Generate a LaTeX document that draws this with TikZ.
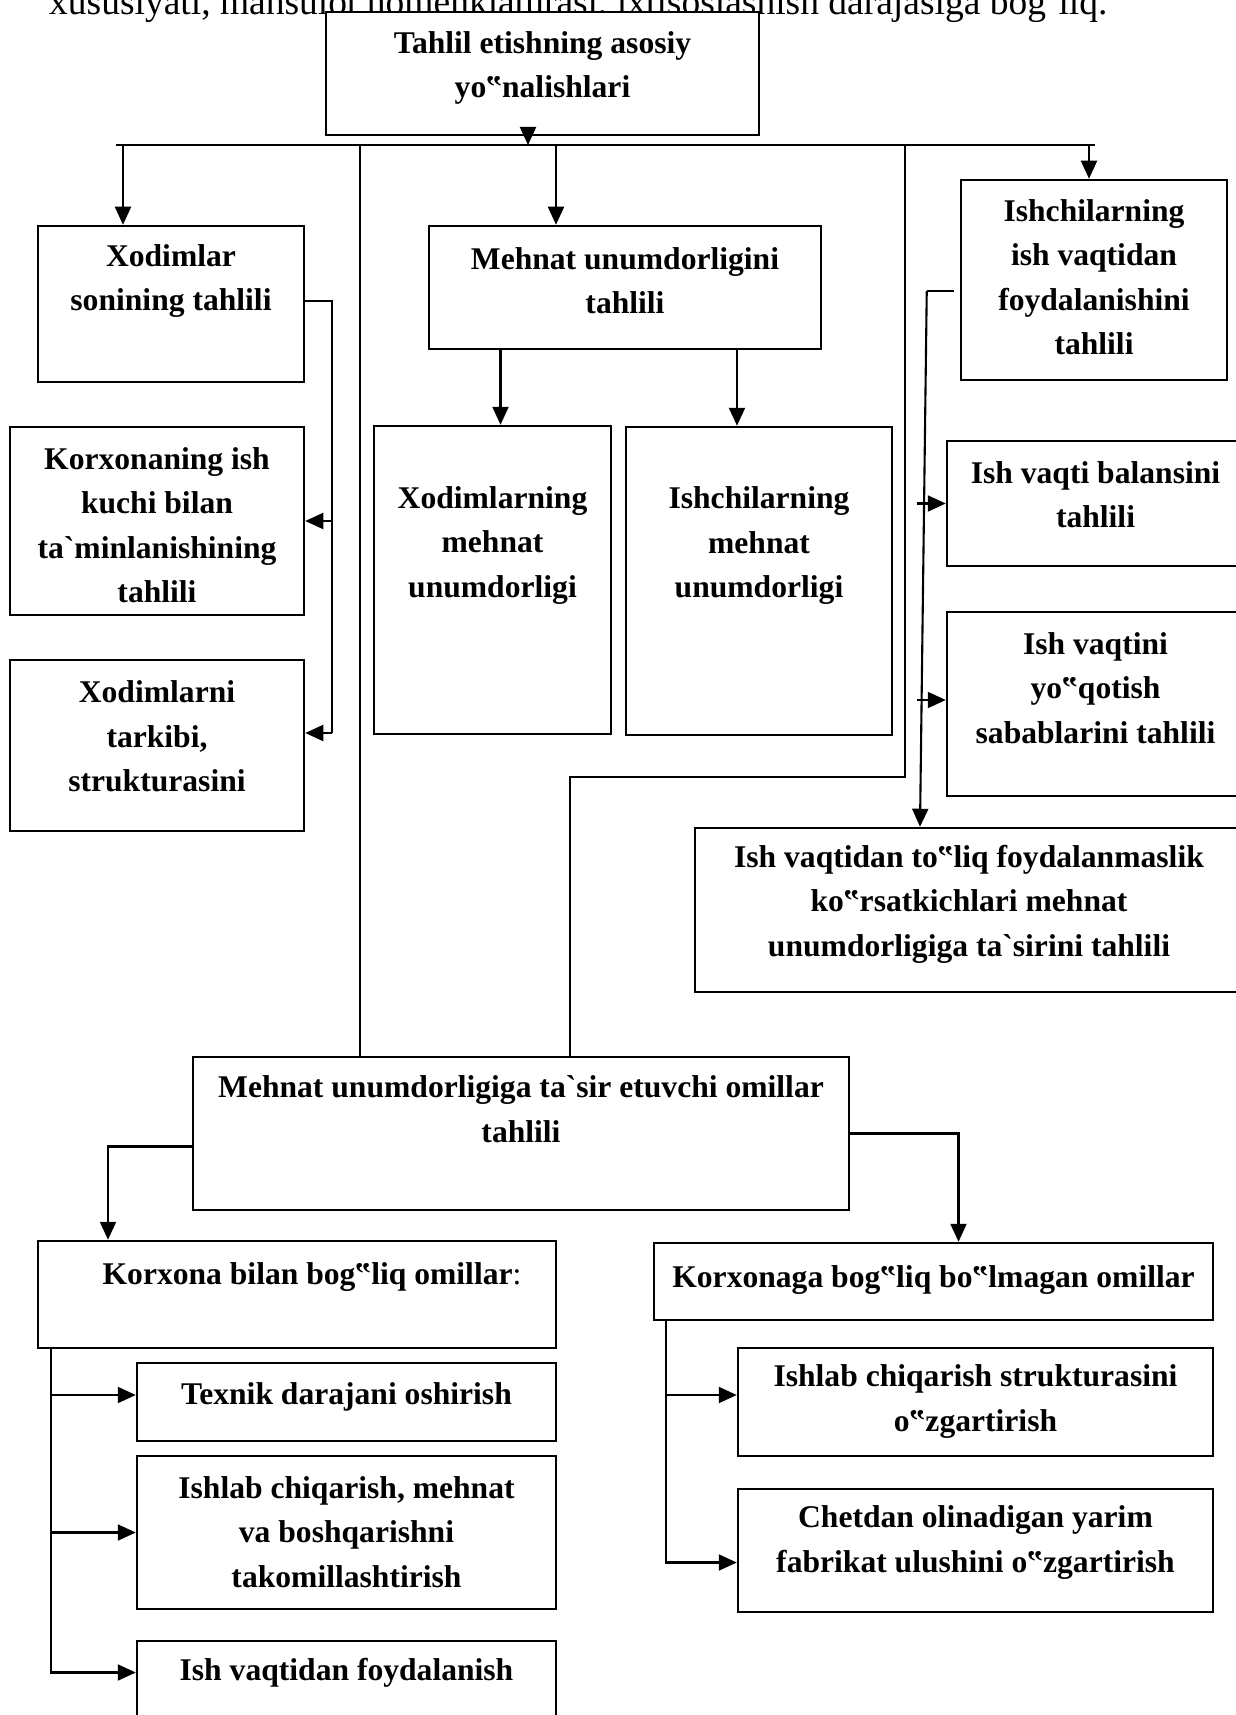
\documentclass[tikz,border=0pt]{standalone}
\usepackage{fontspec}
\newfontfamily\chartfont{Liberation Serif}
\usetikzlibrary{arrows.meta}
\tikzset{
  box/.style={draw,line width=2.5pt,fill=white,inner sep=0pt},
  txt/.style={align=center,inner sep=0pt,font=\chartfont\bfseries\fontsize{31.6}{44.5}\selectfont},
  line/.style={line width=2.1pt},
  arr/.style={line width=2.1pt,-{Triangle[length=18pt,width=16pt]}}
}
\begin{document}
\begin{tikzpicture}[x=1pt,y=-1pt]
  \path[use as bounding box,clip] (0,0) rectangle (1236,1715);
  \fill[white] (0,0) rectangle (1236,1715);
  % last line of the text above, cut by the page
  \node[anchor=base west,inner sep=0pt,font=\chartfont\fontsize{37.5}{44}\selectfont] (prev) at (49,15) {xususiyati, mahsulot nomenklaturasi, ixtisoslashish darajasiga bog‘liq.};

  % top
  \node[box,minimum width=433pt,minimum height=123pt] (top) at (542.5,73.5) {};
  \node[txt] (topT) at (542.5,68) {Tahlil etishning asosiy\\yo‟nalishlari};

  % left column
  \node[box,minimum width=266pt,minimum height=156pt] (xod) at (171,304) {};
  \node[txt] (xodT) at (171,281) {Xodimlar\\sonining tahlili};
  \node[box,minimum width=294pt,minimum height=188pt] (kor) at (157,521) {};
  \node[txt] (korT) at (157,525) {Korxonaning ish\\kuchi bilan\\ta`minlanishining\\tahlili};
  \node[box,minimum width=294pt,minimum height=171pt] (xodt) at (157,745.5) {};
  \node[txt] (xodtT) at (157,736.5) {Xodimlarni\\tarkibi,\\strukturasini};

  % middle column
  \node[box,minimum width=392pt,minimum height=123pt] (mun) at (625,287.5) {};
  \node[txt] (munT) at (625,280.5) {Mehnat unumdorligini\\tahlili};
  \node[box,minimum width=237pt,minimum height=308pt] (xm) at (492.5,580) {};
  \node[txt] (xmT) at (492.5,545.5) {Xodimlarning\\mehnat\\unumdorligi};
  \node[box,minimum width=266pt,minimum height=308pt] (im) at (759,581) {};
  \node[txt] (imT) at (759,546) {Ishchilarning\\mehnat\\unumdorligi};

  % right column
  \node[box,minimum width=266pt,minimum height=200pt] (ish) at (1094,280) {};
  \node[txt] (ishT) at (1094,277) {Ishchilarning\\ish vaqtidan\\foydalanishini\\tahlili};
  \node[box,minimum width=297pt,minimum height=125pt] (bal) at (1095.5,503.5) {};
  \node[txt] (balT) at (1095.5,494.5) {Ish vaqti balansini\\tahlili};
  \node[box,minimum width=297pt,minimum height=184pt] (yoq) at (1095.5,704) {};
  \node[txt] (yoqT) at (1095.5,688) {Ish vaqtini\\yo‟qotish\\sabablarini tahlili};
  \node[box,minimum width=548pt,minimum height=164pt] (itl) at (969,910) {};
  \node[txt] (itlT) at (969,904) {Ish vaqtidan to‟liq foydalanmaslik\\ko‟rsatkichlari mehnat\\unumdorligiga ta`sirini tahlili};

  % factors
  \node[box,minimum width=656pt,minimum height=153pt] (muo) at (521,1133.5) {};
  \node[txt] (muoT) at (521,1109) {Mehnat unumdorligiga ta`sir etuvchi omillar\\tahlili};
  \node[box,minimum width=518pt,minimum height=107pt] (kb) at (297,1294.5) {};
  \node[txt] (kbT) at (312,1277) {Korxona bilan bog‟liq omillar{\mdseries :}};
  \node[box,minimum width=559pt,minimum height=77pt] (kn) at (933.5,1281.5) {};
  \node[txt] (knT) at (933.5,1280) {Korxonaga bog‟liq bo‟lmagan omillar};
  \node[box,minimum width=419pt,minimum height=78pt] (tex) at (346.5,1402) {};
  \node[txt] (texT) at (346.5,1397) {Texnik darajani oshirish};
  \node[box,minimum width=419pt,minimum height=153pt] (ichm) at (346.5,1532.5) {};
  \node[txt] (ichmT) at (346.5,1532) {Ishlab chiqarish, mehnat\\va boshqarishni\\takomillashtirish};
  \node[box,minimum width=419pt,minimum height=89pt] (ivf) at (346.5,1685.5) {};
  \node[txt] (ivfT) at (346.5,1673) {Ish vaqtidan foydalanish};
  \node[box,minimum width=475pt,minimum height=108pt] (isk) at (975.5,1402) {};
  \node[txt] (iskT) at (975.5,1401.5) {Ishlab chiqarish strukturasini\\o‟zgartirish};
  \node[box,minimum width=475pt,minimum height=123pt] (chet) at (975.5,1550.5) {};
  \node[txt] (chetT) at (975.5,1542.5) {Chetdan olinadigan yarim\\fabrikat ulushini o‟zgartirish};

  % bus under the top box
  \coordinate (busL) at (116,145);
  \coordinate (busR) at (1095,145);
  \draw[line] (busL) -- (busR);
  \draw[arr] ([xshift=-14.5pt]top.south) -- ([xshift=-14.5pt]top.south |- busL);
  \draw[arr] ([xshift=-48pt]xod.north |- busL) -- ([xshift=-48pt]xod.north);
  \draw[arr] ([xshift=-69pt]mun.north |- busL) -- ([xshift=-69pt]mun.north);
  \draw[arr] ([xshift=-5pt]ish.north |- busL) -- ([xshift=-5pt]ish.north);
  \draw[line] ([xshift=-161pt]muo.north |- busL) -- ([xshift=-161pt]muo.north);
  \coordinate (mbend) at (905,777);
  \draw[line] (mbend |- busL) -- (mbend) -| ([xshift=49pt]muo.north);

  \draw[arr] ([xshift=8pt]xm.north |- mun.south) -- ([xshift=8pt]xm.north);
  \draw[arr] ([xshift=-22pt]im.north |- mun.south) -- ([xshift=-22pt]im.north);

  \coordinate (lspine) at (332,733);
  \draw[line] ([yshift=3pt]xod.east) -| (lspine);
  \draw[arr] (lspine |- kor.east) -- (kor.east);
  \draw[arr] (lspine) -- (lspine -| xodt.east);

  \draw[line] ([xshift=-6pt,yshift=-11pt]ish.west) -- ++(-27,0) coordinate (rtop);
  \draw[arr] (rtop) -- ([xshift=-49pt]itl.north);
  \draw[arr] ([xshift=-29pt]bal.west) -- (bal.west);
  \draw[arr] ([xshift=-29pt,yshift=4pt]yoq.west) -- ([yshift=4pt]yoq.west);

  \draw[arr] ([yshift=-13pt]muo.west) -| ([xshift=-189pt]kb.north);
  \draw[arr] (muo.east) -| ([xshift=25pt]kn.north);
  \coordinate (kbs) at ([xshift=14pt]kb.south west);
  \draw[arr] (kbs) |- ([yshift=13pt]ivf.west);
  \draw[arr] ([yshift=7pt]tex.west -| kbs) -- ([yshift=7pt]tex.west);
  \draw[arr] (ichm.west -| kbs) -- (ichm.west);
  \coordinate (kns) at ([xshift=13pt]kn.south west);
  \draw[arr] (kns) |- ([yshift=-12pt]chet.west);
  \draw[arr] ([yshift=7pt]isk.west -| kns) -- ([yshift=7pt]isk.west);
\end{tikzpicture}
\end{document}
